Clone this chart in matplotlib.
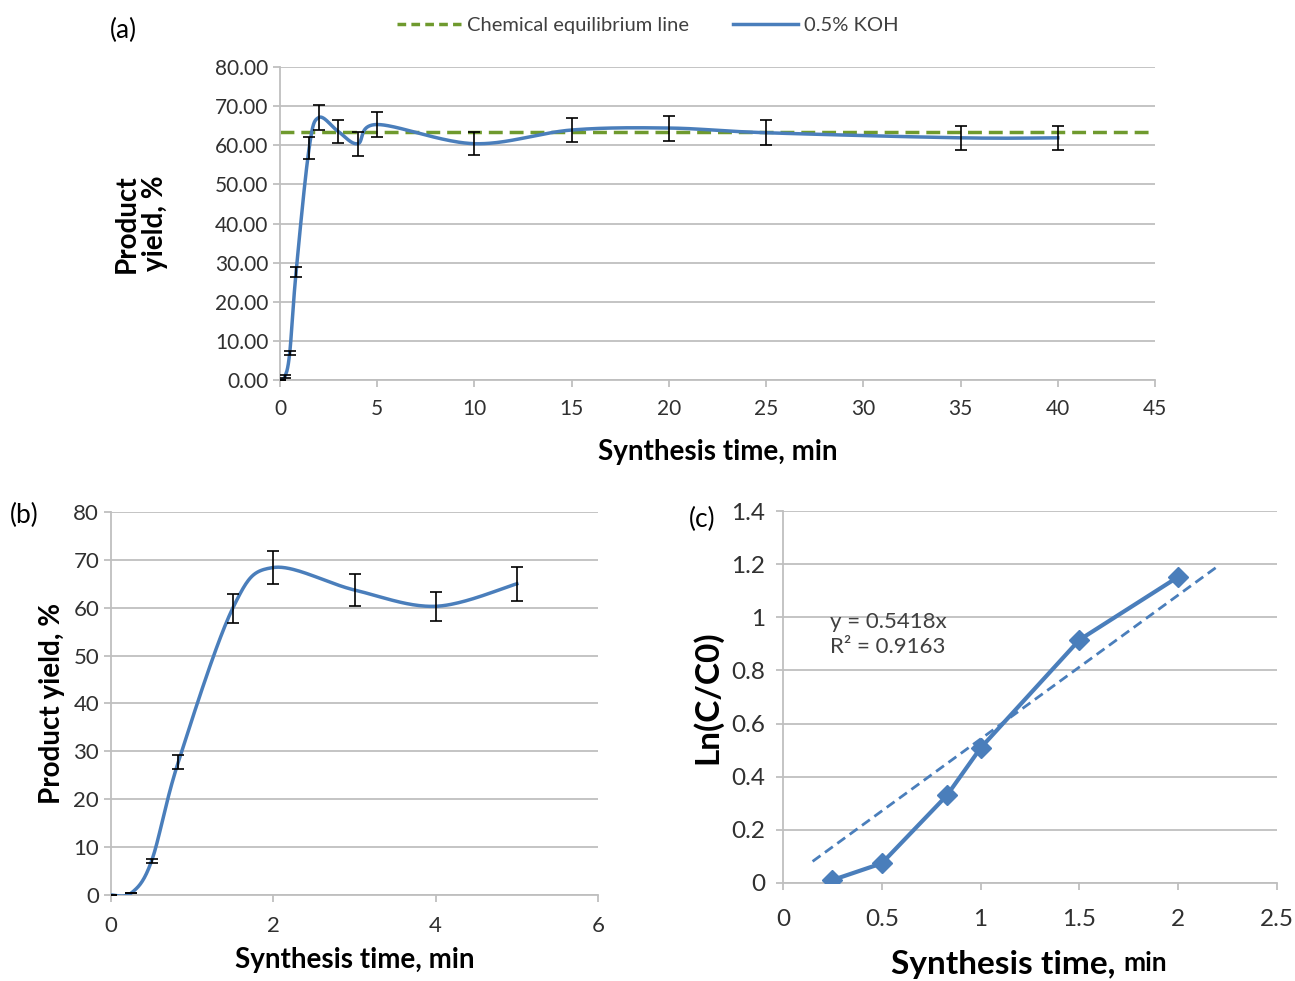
import numpy as np
import matplotlib.pyplot as plt
from matplotlib.lines import Line2D

plt.rcParams['font.family'] = ['Lato', 'DejaVu Sans']

# panel (a): yield vs time, 0.5% KOH
t_a = [0, 0.25, 0.5, 0.83, 1.5, 2, 3, 4, 5, 10, 15, 20, 25, 35, 40]
y_a = [0, 0.8, 6.9, 27.7, 59.3, 67.1, 63.5, 60.4, 65.3, 60.4, 63.9, 64.4, 63.2, 61.9, 61.9]
e_a = [0, 0.4, 0.6, 1.3, 2.8, 3.2, 3.0, 3.1, 3.1, 2.9, 3.0, 3.2, 3.2, 3.0, 3.0]
equilibrium = 63.3

# panel (b): first 5 minutes
t_b = [0, 0.25, 0.5, 0.83, 1.5, 2, 3, 4, 5]
y_b = [0, 0.4, 7.1, 27.8, 59.9, 68.4, 63.7, 60.3, 65.0]
e_b = [0, 0, 0.5, 1.4, 3.0, 3.4, 3.4, 3.0, 3.5]

# panel (c): kinetics
t_c = [0.25, 0.5, 0.83, 1.0, 1.5, 2.0]
ln_c = [0.011, 0.074, 0.33, 0.508, 0.915, 1.152]
slope = 0.5418
r2 = 0.9163
fit_range = [0.15, 2.2]

BLUE = '#4A7EBB'
GREEN = '#6F9A2E'
GRID = '#BFBFBF'
TXT = '#404040'


def smooth(x, y, sx, sy, n=40):
    # excel-like bezier smoothing done in screen-ish units
    px = np.asarray(x, float) * sx
    py = np.asarray(y, float) * sy
    P = np.column_stack([px, py])
    P = np.vstack([P[0], P, P[-1]])
    out = []
    t = np.linspace(0, 1, n)[:, None]
    for i in range(1, len(P) - 2):
        p0, p1, p2, p3 = P[i - 1], P[i], P[i + 1], P[i + 2]
        c1 = p1 + (p2 - p0) / 6.0
        c2 = p2 - (p3 - p1) / 6.0
        seg = ((1 - t) ** 3) * p1 + 3 * ((1 - t) ** 2) * t * c1 + 3 * (1 - t) * t ** 2 * c2 + t ** 3 * p2
        out.append(seg)
    out = np.vstack(out)
    return out[:, 0] / sx, out[:, 1] / sy


def style(ax, fs):
    ax.grid(axis='y', color=GRID, lw=1.3)
    ax.set_axisbelow(True)
    for s in ['top', 'right']:
        ax.spines[s].set_visible(False)
    for s in ['left', 'bottom']:
        ax.spines[s].set_color(GRID)
        ax.spines[s].set_linewidth(1.3)
    ax.tick_params(colors=GRID, labelcolor='#303030', labelsize=fs, length=5, width=1.3)


fig = plt.figure(figsize=(12.95, 9.81), dpi=100)

# ---- (a)
ax1 = fig.add_axes([0.2162, 0.6126, 0.6757, 0.3191])
style(ax1, 15)
ax1.tick_params(axis='x', pad=9)
sx_a, sy_a = 875 / 45.0, 313 / 80.0
xs, ys = smooth(t_a, y_a, sx_a, sy_a)
ax1.axhline(equilibrium, color=GREEN, lw=2.5, ls=(0, (4, 2)), zorder=2)
ax1.plot(xs, ys, color=BLUE, lw=2.5, zorder=3)
ax1.errorbar(t_a, y_a, yerr=e_a, fmt='none', ecolor='black', elinewidth=1.2, capsize=4.5, capthick=1.2, zorder=4)
ax1.set_xlim(0, 45)
ax1.set_ylim(0, 80)
ax1.set_xticks(np.arange(0, 46, 5))
ax1.set_yticks(np.arange(0, 81, 10))
ax1.set_yticklabels(['%.2f' % v for v in np.arange(0, 81, 10)])
ax1.set_xlabel('Synthesis time, min', fontsize=20, fontweight='bold', color='black', labelpad=14)
ax1.set_ylabel('Product\nyield, %', fontsize=20, fontweight='bold', color='black', labelpad=34,
               linespacing=1.1)
fig.text(0.085, 0.969, '(a)', fontsize=19, va='center')

handles = [Line2D([], [], color=GREEN, lw=2.5, ls=(0, (2.5, 1.5))),
           Line2D([], [], color=BLUE, lw=2.5)]
fig.legend(handles, ['Chemical equilibrium line', '0.5% KOH'], loc='center',
           bbox_to_anchor=(0.5, 0.974), ncol=2, frameon=False, fontsize=14.5,
           labelcolor=TXT, handlelength=3.2, handletextpad=0.3, columnspacing=2.2)

# ---- (b)
ax2 = fig.add_axes([0.0857, 0.0877, 0.3761, 0.3904])
style(ax2, 16)
ax2.tick_params(axis='x', pad=10)
sx_b, sy_b = 487 / 6.0, 383 / 80.0
xs, ys = smooth(t_b, y_b, sx_b, sy_b)
ax2.plot(xs, ys, color=BLUE, lw=2.5, zorder=3)
ax2.errorbar(t_b, y_b, yerr=e_b, fmt='none', ecolor='black', elinewidth=1.2, capsize=4.5, capthick=1.2, zorder=4)
ax2.set_xlim(0, 6)
ax2.set_ylim(0, 80)
ax2.set_xticks(np.arange(0, 7, 2))
ax2.set_yticks(np.arange(0, 81, 10))
ax2.set_xlabel('Synthesis time, min', fontsize=20, fontweight='bold', color='black', labelpad=8)
ax2.set_ylabel('Product yield, %', fontsize=20, fontweight='bold', color='black', labelpad=6)
fig.text(0.008, 0.475, '(b)', fontsize=19, va='center')

# ---- (c)
ax3 = fig.add_axes([0.6046, 0.0999, 0.3815, 0.3792])
style(ax3, 17.5)
fx = np.array(fit_range)
ax3.plot(fx, slope * fx, color=BLUE, lw=2, ls=(0, (3.5, 2)), zorder=2)
ax3.plot(t_c, ln_c, color=BLUE, lw=3, marker='D', markersize=10, zorder=3)
ax3.set_xlim(0, 2.5)
ax3.set_ylim(0, 1.4)
ax3.set_xticks(np.arange(0, 2.51, 0.5))
ax3.set_xticklabels(['0', '0.5', '1', '1.5', '2', '2.5'])
ax3.set_yticks(np.arange(0, 1.41, 0.2))
ax3.set_yticklabels(['0', '0.2', '0.4', '0.6', '0.8', '1', '1.2', '1.4'])
ax3.tick_params(axis='y', pad=8)
ax3.tick_params(axis='x', pad=14)
ax3.set_ylabel('Ln(C/C0)', fontsize=24, fontweight='bold', color='black', labelpad=6)
ax3.text(0.69, -0.22, 'Synthesis time, ', transform=ax3.transAxes, ha='right', va='center',
         fontsize=24, fontweight='bold')
ax3.text(0.69, -0.215, 'min', transform=ax3.transAxes, ha='left', va='center',
         fontsize=19, fontweight='bold')
ax3.text(0.24, 1.02, 'y = 0.5418x\nR² = 0.9163', fontsize=16, color=TXT, va='top', linespacing=1.3)
fig.text(0.532, 0.47, '(c)', fontsize=19, va='center')

fig.savefig('out.png', dpi=100)
